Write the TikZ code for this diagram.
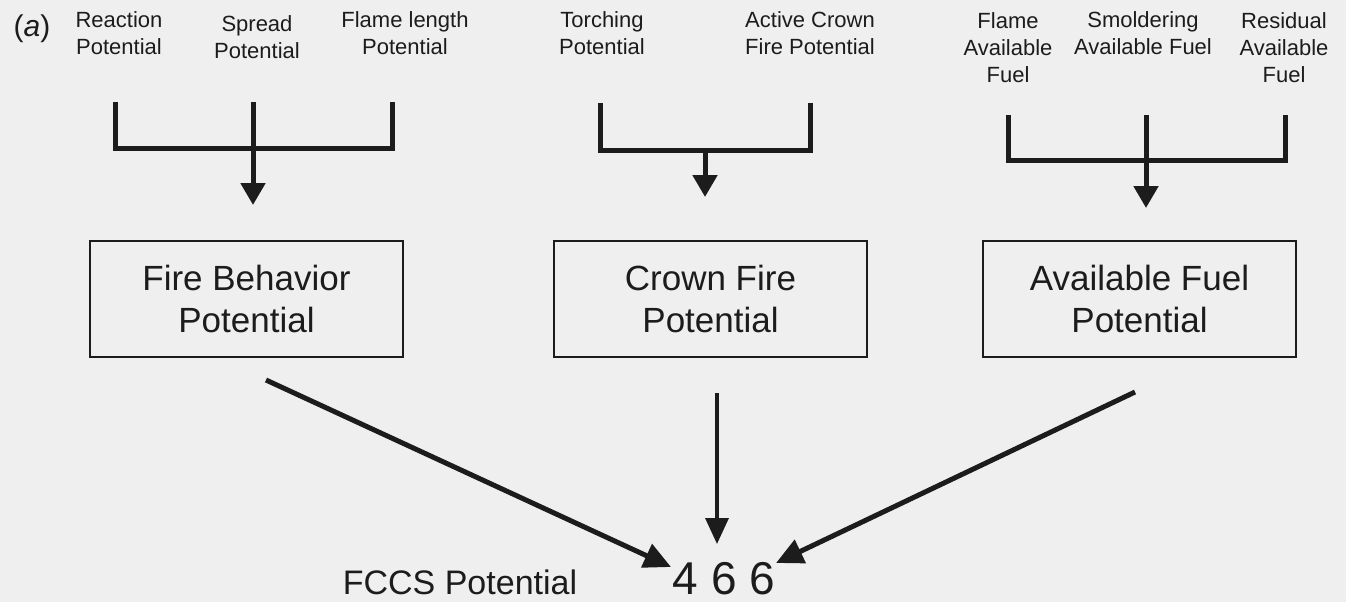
\documentclass[tikz,border=0pt]{standalone}
\usepackage{fontspec}
\setmainfont{Liberation Sans}
\usetikzlibrary{arrows.meta}
\definecolor{ink}{HTML}{1C1C1C}
\definecolor{paper}{HTML}{EFEFEF}
\tikzset{
  lbl/.style={font=\fontsize{22}{27}\selectfont, align=center, inner sep=0pt, text=ink, anchor=base},
  boxnode/.style={draw=ink, line width=2pt, minimum width=313pt, minimum height=116pt, inner sep=0pt,
    font=\fontsize{35}{42}\selectfont, align=center, text=ink},
  brk/.style={draw=ink, line width=5pt, line join=miter},
  brkarrow/.style={draw=ink, line width=5pt, -{Triangle[length=22pt,width=24pt]}},
  bigarrow/.style={draw=ink, line width=5pt, -{Triangle[length=27pt,width=25pt]}},
  midarrow/.style={draw=ink, line width=3.5pt, -{Triangle[length=26pt,width=23pt]}},
}
\begin{document}
\begin{tikzpicture}[x=1pt,y=-1pt]
\useasboundingbox (0,0) rectangle (1346,602);
\fill[paper] (0,0) rectangle (1346,602);

% top labels (anchor = baseline of the last line)
\node[lbl, font=\fontsize{30}{36}\selectfont] (lab) at (32,37) {(\textit{a})};
\node[lbl] (rp) at (119,55) {Reaction\\Potential};
\node[lbl] (sp) at (257,59) {Spread\\Potential};
\node[lbl] (flp) at (405,55) {Flame length\\Potential};
\node[lbl] (tp) at (602,55) {Torching\\Potential};
\node[lbl] (acp) at (810,55) {Active Crown\\Fire Potential};
\node[lbl] (faf) at (1008,82) {Flame\\Available\\Fuel};
\node[lbl] (saf) at (1143,55) {Smoldering\\Available Fuel};
\node[lbl] (raf) at (1284,82) {Residual\\Available\\Fuel};

% boxes
\node[boxnode] (fbp) at (246.5,299) {Fire Behavior\\Potential};
\node[boxnode] (cfp) at (710.5,299) {Crown Fire\\Potential};
\node[boxnode] (afp) at (1139.5,299) {Available Fuel\\Potential};

% result
\node[lbl, font=\fontsize{34}{40}\selectfont] (fccs) at (460,594) {FCCS Potential};
\node[lbl, font=\fontsize{46}{54}\selectfont] (val) at (724,594) {4 6 6};

% bracket 1
\coordinate (b1l) at (115,102);
\coordinate (b1m) at (253,102);
\coordinate (b1r) at (392,102);
\coordinate (b1t) at (253,205);
\draw[brk] (b1l) -- (115,148) -- (392,148) -- (b1r);
\draw[brkarrow] (b1m) -- (b1t);

% bracket 2
\coordinate (b2l) at (600,103);
\coordinate (b2r) at (810,103);
\coordinate (b2s) at (705,150);
\coordinate (b2t) at (705,197);
\draw[brk] (b2l) -- (600,150) -- (810,150) -- (b2r);
\draw[brkarrow] (b2s) -- (b2t);

% bracket 3
\coordinate (b3l) at (1008,115);
\coordinate (b3m) at (1146,115);
\coordinate (b3r) at (1285,115);
\coordinate (b3t) at (1146,208);
\draw[brk] (b3l) -- (1008,160) -- (1285,160) -- (b3r);
\draw[brkarrow] (b3m) -- (b3t);

% bottom arrows
\coordinate (l1) at (266,380);
\coordinate (l1t) at (671,567);
\coordinate (m1) at (717,393);
\coordinate (m1t) at (717,544);
\coordinate (r1) at (1135,392);
\coordinate (r1t) at (776,563);
\draw[bigarrow] (l1) -- (l1t);
\draw[midarrow] (m1) -- (m1t);
\draw[bigarrow] (r1) -- (r1t);
\end{tikzpicture}
\end{document}
